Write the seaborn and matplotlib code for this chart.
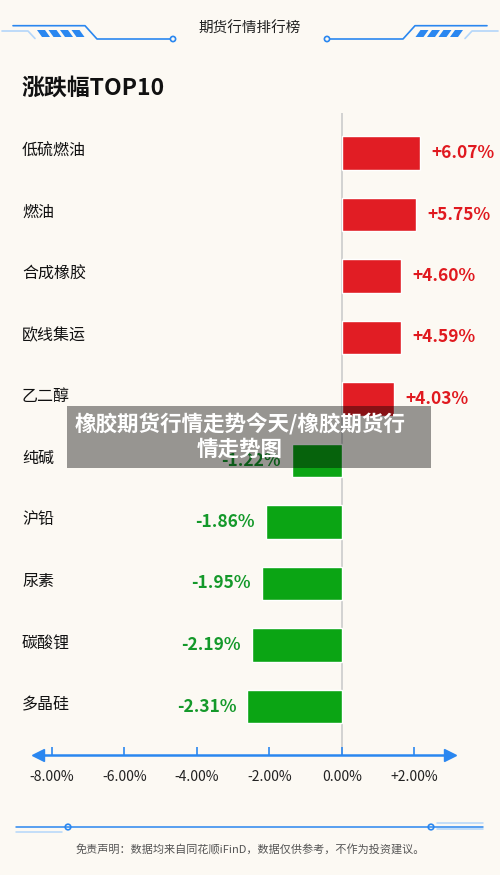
import numpy as np
import matplotlib
matplotlib.use('Agg')
import matplotlib.pyplot as plt
import seaborn as sns
from matplotlib.patches import Rectangle, Polygon, Circle
from matplotlib.transforms import blended_transform_factory

# 数据
names = ['低硫燃油', '燃油', '合成橡胶', '欧线集运', '乙二醇',
         '纯碱', '沪铅', '尿素', '碳酸锂', '多晶硅']
changes = [6.07, 5.75, 4.60, 4.59, 4.03, -1.22, -1.86, -1.95, -2.19, -2.31]
axis_ticks = [-8, -6, -4, -2, 0, 2]
axis_labels = ['-8.00%', '-6.00%', '-4.00%', '-2.00%', '0.00%', '+2.00%']

BG = '#fcf9f3'
RED = '#e11d24'
GREEN = '#0ba514'
RED_TXT = '#e0191f'
GREEN_TXT = '#14992a'
BLUE = '#2a87f0'
LIGHT_BLUE = '#b3d6fa'

sns.set_theme(style='white')
plt.rcParams['font.family'] = ['Noto Sans CJK SC', 'DejaVu Sans']

W, H = 500, 875
fig = plt.figure(figsize=(5, 8.75), dpi=100, facecolor=BG)


def box(l, t, r, b):
    return [l / W, 1 - b / H, (r - l) / W, (b - t) / H]


# 装饰层（像素坐标）
deco = fig.add_axes([0, 0, 1, 1], zorder=0)
deco.set_xlim(0, W)
deco.set_ylim(H, 0)
deco.axis('off')

for side in (1, -1):
    fx = (lambda x: x) if side == 1 else (lambda x: W - x)
    deco.plot([fx(2), fx(28), fx(35)], [31, 31, 38.5], color=LIGHT_BLUE, lw=1.2)
    deco.plot([fx(13), fx(85), fx(97), fx(170)], [25.7, 25.7, 39, 39], color=BLUE, lw=1.2)
    deco.add_patch(Circle((fx(173), 39), 2.6, fc=BG, ec=BLUE, lw=1.2))
    for i in range(4):
        s = 37 + i * 11.5
        xs = [s, s + 8, s + 13, s + 5]
        deco.add_patch(Polygon([(fx(x), y) for x, y in zip(xs, [30, 30, 37, 37])],
                               closed=True, fc=BLUE, ec='none'))

deco.text(250, 29, '期货行情排行榜', ha='center', va='center', fontsize=10.5,
          color='#222222', fontweight='medium')
deco.text(22, 88, '涨跌幅TOP10', ha='left', va='center', fontsize=16.5,
          color='#111111', fontweight='bold')

# 底部装饰
deco.plot([16, 483], [827, 827], color=BLUE, lw=1.1)
deco.plot([16, 62], [832, 832], color=LIGHT_BLUE, lw=1.1)
deco.plot([437, 483], [823, 823], color=LIGHT_BLUE, lw=1.1)
deco.plot([437, 483], [829, 829], color=LIGHT_BLUE, lw=1.1)
for cx in (68, 431):
    deco.add_patch(Circle((cx, 827), 2.8, fc=BG, ec=BLUE, lw=1.2))
deco.text(250, 849, '免责声明：数据均来自同花顺iFinD，数据仅供参考，不作为投资建议。',
          ha='center', va='center', fontsize=8, color='#555555')

# 条形图：正负两侧比例不同
POS, NEG = 12.9, 41.0


def fwd(x):
    x = np.asarray(x, dtype=float)
    return np.where(x >= 0, x * POS, x * NEG)


def inv(y):
    y = np.asarray(y, dtype=float)
    return np.where(y >= 0, y / POS, y / NEG)


ax = fig.add_axes(box(30, 113, 470, 755), zorder=1)
ax.set_facecolor('none')
colors = [RED if v > 0 else GREEN for v in changes]
sns.barplot(x=changes, y=names, hue=names, palette=colors, legend=False,
            orient='h', width=0.55, saturation=1, ax=ax, zorder=2)
ax.set_xscale('function', functions=(fwd, inv))
ax.set_xlim((30 - 342) / NEG, (470 - 342) / POS)
ax.set_ylim(9 + (755 - 706.5) / 61.5, -(153 - 113) / 61.5)
ax.axvline(0, color='#cfcfcf', lw=1.3, zorder=1)
for s in ax.spines.values():
    s.set_visible(False)
ax.set_xticks([])
ax.set_yticks([])
ax.set_xlabel('')
ax.set_ylabel('')

lab_tr = blended_transform_factory(fig.transFigure, ax.transData)
for i, (n, v) in enumerate(zip(names, changes)):
    ax.annotate(n, xy=(22 / W, i), xycoords=lab_tr, xytext=(0, 1.5),
                textcoords='offset points', ha='left', va='center',
                fontsize=11.5, color='#111111')
    ax.annotate(f'{v:+.2f}%', xy=(v, i), xytext=(8 if v > 0 else -8, 0),
                textcoords='offset points', ha='left' if v > 0 else 'right',
                va='center', fontsize=12.5, fontweight='bold',
                color=RED_TXT if v > 0 else GREEN_TXT)

# 底部刻度轴
ax2 = fig.add_axes(box(37.5, 735, 449.5, 755), zorder=1)
ax2.set_facecolor('none')
lo = -8 - (51.7 - 37.5) / 36.26
hi = 2 + (449.5 - 414.3) / 36.26
ax2.set_xlim(lo, hi)
ax2.set_ylim(0, 1)
for k, s in ax2.spines.items():
    s.set_visible(k == 'bottom')
ax2.spines['bottom'].set_color(BLUE)
ax2.spines['bottom'].set_linewidth(1.8)
ax2.set_xticks(axis_ticks, axis_labels)
ax2.set_yticks([])
ax2.tick_params(axis='x', direction='in', length=6, width=1.2, color=BLUE,
                pad=11, labelsize=10, labelcolor='#222222', bottom=True)
ax2.plot([lo], [0], marker='<', markersize=8, color=BLUE, clip_on=False)
ax2.plot([hi], [0], marker='>', markersize=8, color=BLUE, clip_on=False)

# 覆盖的标题条
top = fig.add_axes([0, 0, 1, 1], zorder=5)
top.set_xlim(0, W)
top.set_ylim(H, 0)
top.axis('off')
top.add_patch(Rectangle((67, 406), 364, 62, fc='black', alpha=0.4, ec='none'))
top.text(240, 424, '橡胶期货行情走势今天/橡胶期货行', ha='center', va='center',
         fontsize=15.5, fontweight='bold', color='white')
top.text(240, 449, '情走势图', ha='center', va='center',
         fontsize=15.5, fontweight='bold', color='white')

fig.savefig('out.png', dpi=100, facecolor=BG)
